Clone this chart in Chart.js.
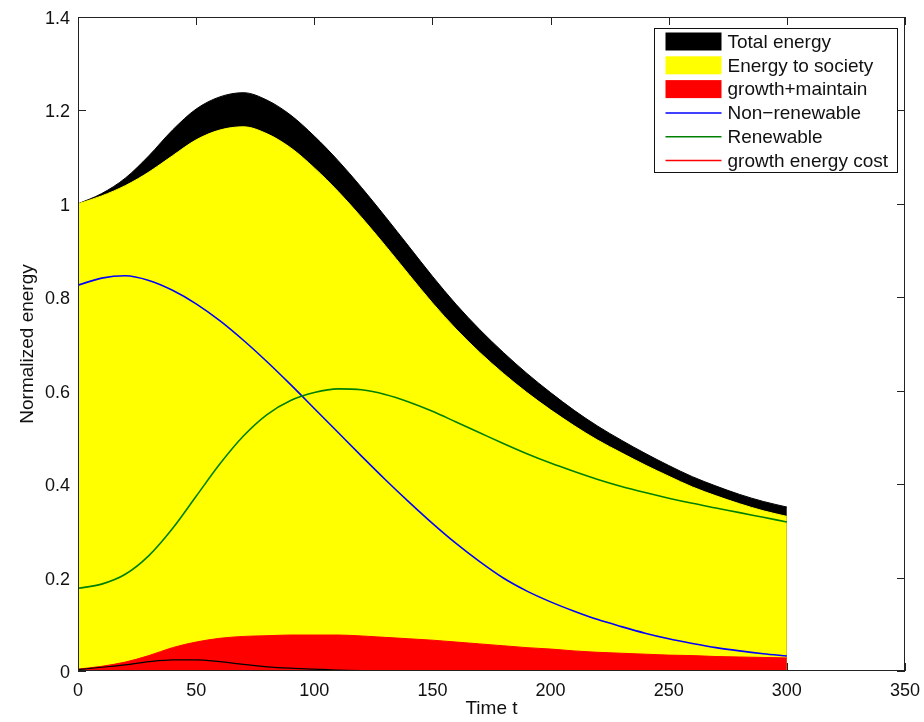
<!DOCTYPE html>
<html>
<head>
<meta charset="utf-8">
<script src="https://cdn.jsdelivr.net/npm/chart.js@4.4.1/dist/chart.umd.min.js"></script>
<style>
  html, body { margin: 0; padding: 0; background: #fff; }
</style>
</head>
<body>
<canvas id="energy" width="924" height="722"></canvas>
<script>
// sample times and the energy curves read at each one
const times = [0,10,20,30,40,50,60,70,80,90,100,110,120,130,140,150,160,170,180,190,200,210,220,230,240,250,260,270,280,290,300];

const totalEnergy    = [1.000,1.022,1.055,1.103,1.158,1.203,1.229,1.238,1.222,1.190,1.145,1.093,1.035,0.973,0.909,0.845,0.785,0.731,0.682,0.637,0.596,0.558,0.524,0.494,0.466,0.440,0.416,0.396,0.378,0.363,0.351];
const societyTop     = [1.000,1.017,1.039,1.068,1.103,1.137,1.158,1.165,1.150,1.120,1.077,1.027,0.971,0.911,0.849,0.788,0.732,0.682,0.637,0.596,0.559,0.525,0.494,0.467,0.441,0.417,0.394,0.375,0.358,0.343,0.331];
const growthMaintain = [0.004,0.010,0.019,0.033,0.050,0.062,0.070,0.074,0.0755,0.077,0.077,0.077,0.075,0.072,0.069,0.066,0.062,0.058,0.054,0.050,0.047,0.043,0.040,0.038,0.036,0.034,0.033,0.031,0.030,0.029,0.028];
const nonRenewable   = [0.826,0.841,0.846,0.836,0.815,0.786,0.750,0.708,0.662,0.613,0.562,0.511,0.460,0.410,0.362,0.316,0.273,0.234,0.199,0.171,0.148,0.128,0.110,0.095,0.081,0.069,0.059,0.050,0.043,0.037,0.032];
const renewable      = [0.177,0.186,0.207,0.247,0.305,0.374,0.443,0.503,0.549,0.579,0.596,0.604,0.602,0.592,0.576,0.556,0.533,0.510,0.487,0.465,0.445,0.427,0.410,0.395,0.382,0.370,0.359,0.349,0.339,0.329,0.319];
const growthCost     = [0.003,0.008,0.013,0.020,0.024,0.024,0.020,0.014,0.009,0.006,0.004,0.002,0.001,0.0005,0,0,0,0,0,0,0,0,0,0,0,0,0,0,0,0,0];

const xTicks = [0,50,100,150,200,250,300,350];
const yTicks = [0,0.2,0.4,0.6,0.8,1.0,1.2,1.4];

const FONT = '"Liberation Sans", Arial, Helvetica, sans-serif';
Chart.defaults.font.family = FONT;
Chart.defaults.font.size = 18;
Chart.defaults.color = '#111';

const pts = arr => times.map((t, i) => ({x: t, y: arr[i]}));

const area = (label, data, color, order) => ({
  label, data: pts(data), order, swatch: 'box',
  backgroundColor: color, borderColor: color, borderWidth: 1,
  fill: 'origin', pointRadius: 0, cubicInterpolationMode: 'monotone'
});
const curve = (label, data, color, width, order, legendColor) => ({
  label, data: pts(data), order, swatch: 'line', legendColor: legendColor || color,
  borderColor: color, borderWidth: width,
  fill: false, pointRadius: 0, cubicInterpolationMode: 'monotone'
});

// inward ticks under the data, box and legend on top (matlab style axes)
const frame = {
  id: 'frame',
  beforeDatasetsDraw(chart) {
    const {ctx, chartArea: a, scales: {x, y}} = chart;
    ctx.save();
    ctx.strokeStyle = '#222';
    ctx.lineWidth = 1;
    ctx.beginPath();
    xTicks.forEach(v => {
      const px = Math.round(x.getPixelForValue(v)) + 0.5;
      ctx.moveTo(px, a.bottom); ctx.lineTo(px, a.bottom - 8);
      ctx.moveTo(px, a.top);    ctx.lineTo(px, a.top + 8);
    });
    yTicks.forEach(v => {
      const py = Math.round(y.getPixelForValue(v)) + 0.5;
      ctx.moveTo(a.left, py);  ctx.lineTo(a.left + 8, py);
      ctx.moveTo(a.right, py); ctx.lineTo(a.right - 8, py);
    });
    ctx.stroke();
    ctx.restore();
  },
  afterDraw(chart) {
    const {ctx, chartArea: a} = chart;
    ctx.save();
    ctx.strokeStyle = '#222';
    ctx.lineWidth = 1;
    ctx.strokeRect(Math.round(a.left) + 0.5, Math.round(a.top) + 0.5,
                   Math.round(a.right - a.left) - 1, Math.round(a.bottom - a.top) - 1);

    // legend box
    const w = 243, h = 144;
    const lx = Math.round(a.right - 8 - w) + 0.5, ly = Math.round(a.top + 11) + 0.5;
    ctx.fillStyle = '#fff';
    ctx.fillRect(lx, ly, w, h);
    ctx.strokeStyle = '#111';
    ctx.strokeRect(lx, ly, w, h);
    ctx.font = '19px ' + FONT;
    ctx.textBaseline = 'middle';
    chart.data.datasets.forEach((d, i) => {
      const cy = ly + 13 + i * 23.8;
      const sx = lx + 11, sw = 56;
      if (d.swatch === 'box') {
        ctx.fillStyle = d.backgroundColor;
        ctx.fillRect(sx, cy - 9, sw, 18);
      } else {
        ctx.strokeStyle = d.legendColor;
        ctx.lineWidth = 1.5;
        ctx.beginPath();
        ctx.moveTo(sx, cy); ctx.lineTo(sx + sw, cy);
        ctx.stroke();
      }
      ctx.fillStyle = '#111';
      ctx.fillText(d.label, sx + sw + 6, cy + 1);
    });
    ctx.restore();
  }
};

new Chart(document.getElementById('energy'), {
  type: 'line',
  data: {
    datasets: [
      area('Total energy', totalEnergy, '#000000', 7),
      area('Energy to society', societyTop, '#ffff00', 6),
      area('growth+maintain', growthMaintain, '#ff0000', 5),
      curve('Non\u2212renewable', nonRenewable, '#0000ff', 1.6, 3),
      curve('Renewable', renewable, '#008000', 1.6, 2),
      curve('growth energy cost', growthCost, '#000000', 1.2, 1, '#ff0000')
    ]
  },
  options: {
    responsive: false,
    animation: false,
    devicePixelRatio: 1,
    layout: {padding: {left: 0, top: 17, right: 19, bottom: 0}},
    plugins: {legend: {display: false}, tooltip: {enabled: false}},
    scales: {
      x: {
        type: 'linear', min: 0, max: 350,
        afterBuildTicks: s => { s.ticks = xTicks.map(v => ({value: v})); },
        afterFit: s => { s.height = 51; s.paddingLeft = 0; s.paddingRight = 0; },
        grid: {display: false, drawTicks: false},
        border: {display: false},
        ticks: {padding: 9, maxRotation: 0, autoSkip: false},
        title: {display: true, text: 'Time t', font: {size: 19}, padding: {top: 0, bottom: 2}}
      },
      y: {
        type: 'linear', min: 0, max: 1.4,
        afterBuildTicks: s => { s.ticks = yTicks.map(v => ({value: v})); },
        afterFit: s => { s.width = 78; s.paddingTop = 0; s.paddingBottom = 0; },
        grid: {display: false, drawTicks: false},
        border: {display: false},
        ticks: {padding: 8, labelOffset: 2, autoSkip: false, callback: v => String(+v.toFixed(1))},
        title: {display: true, text: 'Normalized energy', font: {size: 19}, padding: {top: 16, bottom: 0}}
      }
    }
  },
  plugins: [frame]
});
</script>
</body>
</html>
